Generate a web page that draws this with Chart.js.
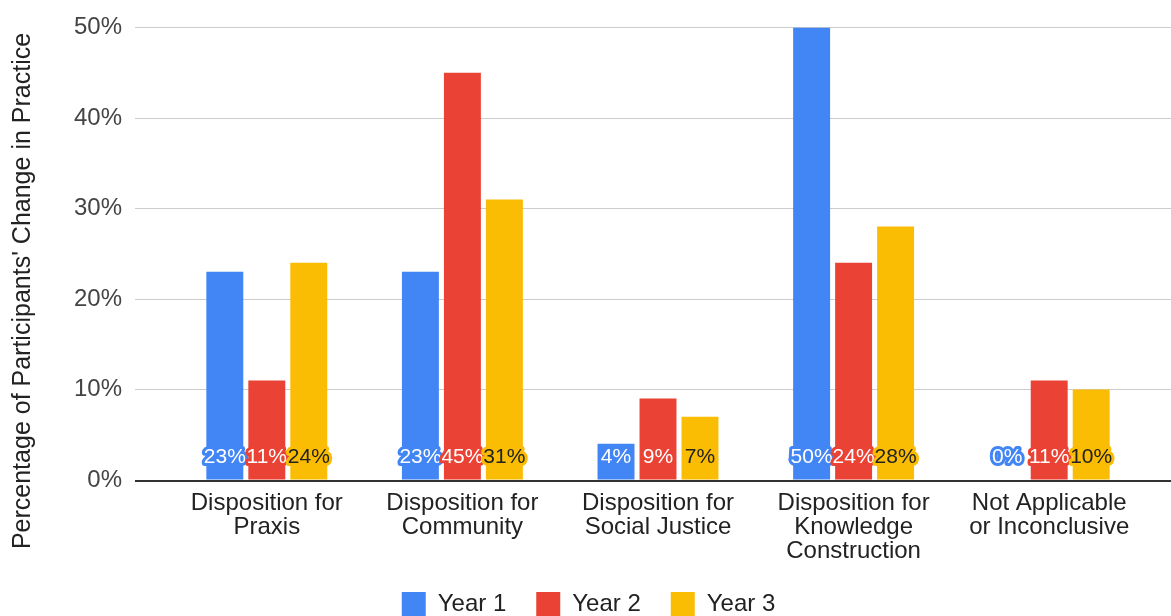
<!DOCTYPE html>
<html><head><meta charset="utf-8">
<script src="https://cdn.jsdelivr.net/npm/chart.js@4"></script>
<style>html,body{margin:0;padding:0;background:#fff}</style>
</head><body>
<canvas id="c" width="1171" height="616"></canvas>
<script>
const categories = [["Disposition for","Praxis"],["Disposition for","Community"],["Disposition for","Social Justice"],["Disposition for","Knowledge","Construction"],["Not Applicable","or Inconclusive"]];
const seriesNames = ["Year 1","Year 2","Year 3"];
const year1 = [23, 23, 4, 50, 0];
const year2 = [11, 45, 9, 24, 11];
const year3 = [24, 31, 7, 28, 10];
const yTickValues = [0, 10, 20, 30, 40, 50];
const yTitle = "Percentage of Participants' Change in Practice";

const FONT = "'Liberation Sans', Arial, sans-serif";
const colors = ['#4285F4', '#EA4335', '#FBBC04'];
const labelTextColors = ['#ffffff', '#ffffff', '#222222'];
const PAD_LEFT = 30;

const extrasPlugin = {
  id: 'extras',
  beforeDatasetsDraw(chart) {
    const {ctx, chartArea, scales: {y}} = chart;
    ctx.save();
    yTickValues.forEach(v => {
      const py = Math.round(y.getPixelForValue(v));
      if (v === 0) return;
      ctx.strokeStyle = '#cccccc';
      ctx.lineWidth = 1;
      ctx.beginPath();
      ctx.moveTo(chartArea.left - 34, py + 0.5);
      ctx.lineTo(chart.width, py + 0.5);
      ctx.stroke();
    });
    ctx.restore();
  },
  afterDatasetsDraw(chart) {
    const {ctx, chartArea, scales: {y}} = chart;
    ctx.save();
    const p0 = Math.round(y.getPixelForValue(0));
    ctx.strokeStyle = '#333333';
    ctx.lineWidth = 2;
    ctx.beginPath();
    ctx.moveTo(chartArea.left - 34, p0 + 1);
    ctx.lineTo(chart.width, p0 + 1);
    ctx.stroke();
    ctx.font = '21px ' + FONT;
    ctx.textAlign = 'center';
    ctx.textBaseline = 'middle';
    ctx.lineJoin = 'round';
    chart.data.datasets.forEach((ds, di) => {
      const meta = chart.getDatasetMeta(di);
      meta.data.forEach((bar, i) => {
        const txt = ds.data[i] + '%';
        const ly = p0 - 23;
        ctx.strokeStyle = colors[di];
        ctx.lineWidth = 6;
        ctx.strokeText(txt, bar.x, ly);
        ctx.fillStyle = labelTextColors[di];
        ctx.fillText(txt, bar.x, ly);
      });
    });
    ctx.translate(23, 291);
    ctx.rotate(-Math.PI / 2);
    ctx.font = '25px ' + FONT;
    ctx.fillStyle = '#222222';
    ctx.textAlign = 'center';
    ctx.textBaseline = 'middle';
    ctx.fillText(yTitle, 0, 0);
    ctx.restore();
  }
};

const seriesData = [year1, year2, year3];
new Chart(document.getElementById('c'), {
  type: 'bar',
  data: {
    labels: categories,
    datasets: seriesNames.map((name, i) => ({
      label: name,
      data: seriesData[i],
      backgroundColor: colors[i],
      borderWidth: 0,
      categoryPercentage: 0.644,
      barPercentage: 0.88
    }))
  },
  options: {
    responsive: false,
    animation: false,
    devicePixelRatio: 1,
    layout: { padding: { top: 27, right: 24, left: PAD_LEFT, bottom: -10 } },
    plugins: {
      legend: {
        position: 'bottom',
        labels: {
          boxWidth: 24, boxHeight: 24, padding: 30,
          color: '#222222',
          font: { family: FONT, size: 24 }
        }
      },
      tooltip: { enabled: false }
    },
    scales: {
      x: {
        offset: true,
        grid: { display: false, drawTicks: false },
        border: { display: false },
        ticks: {
          color: '#222222',
          font: { family: FONT, size: 24, lineHeight: 1 },
          padding: 11,
          maxRotation: 0, autoSkip: false
        },
        afterFit(s) { s.height = 82; }
      },
      y: {
        min: 0, max: 50,
        grid: { display: true, drawOnChartArea: false, drawTicks: true, tickLength: 34, tickColor: 'rgba(0,0,0,0)' },
        border: { display: false },
        afterBuildTicks(s) { s.ticks = yTickValues.map(v => ({ value: v })); },
        ticks: {
          color: '#444444',
          font: { family: FONT, size: 24 },
          padding: 13,
          callback: v => v + '%'
        },
        afterFit(s) { s.width = 169 - PAD_LEFT; }
      }
    }
  },
  plugins: [extrasPlugin]
});
</script>
</body></html>
